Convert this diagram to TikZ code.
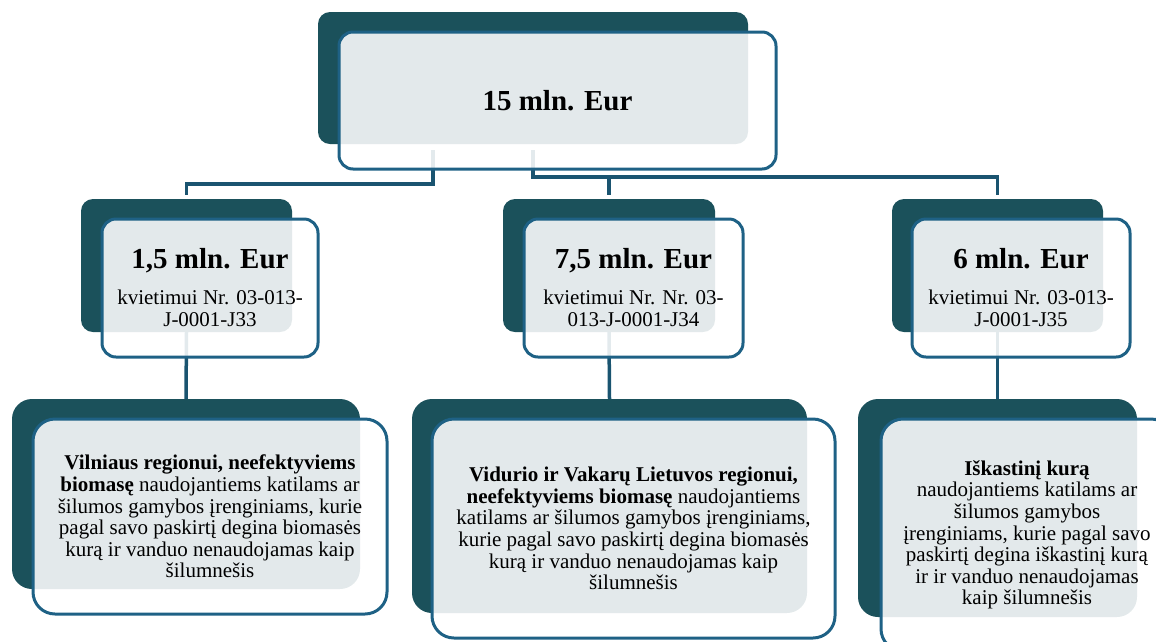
\documentclass[tikz,border=0pt]{standalone}
\usepackage{fontspec}
\setmainfont{Liberation Serif}
\definecolor{darkteal}{HTML}{1B515B}
\definecolor{borderblue}{HTML}{1E6185}
\definecolor{connblue}{HTML}{1A5470}
\tikzset{
  backbox/.style={fill=darkteal, rounded corners=12pt, inner sep=0pt},
  backboxL/.style={fill=darkteal, rounded corners=20pt, inner sep=0pt},
  frontbox/.style={draw=borderblue, line width=3pt, fill=white, fill opacity=0.88,
    text opacity=1, rounded corners=14pt, inner sep=0pt, align=center, text=black,
    font=\fontsize{21}{22.5}\selectfont},
  frontboxL/.style={frontbox, rounded corners=22pt, font=\fontsize{21}{21.6}\selectfont},
  conn/.style={draw=connblue, line width=3.5pt},
  amount/.style={}
}
\newcommand{\amt}[1]{{\fontsize{29}{29}\selectfont\bfseries #1}}
\begin{document}
\begin{tikzpicture}[x=1pt,y=-1pt]
\useasboundingbox (0,0) rectangle (1156,641);
\clip (0,0) rectangle (1156,641);
% back boxes
\node[backbox, minimum width=430pt, minimum height=132pt] (tback) at (533,78) {};
\node[backbox, minimum width=211pt, minimum height=133pt] (m1back) at (186.5,265.5) {};
\node[backbox, minimum width=212pt, minimum height=133pt] (m2back) at (609,265.5) {};
\node[backbox, minimum width=211pt, minimum height=133pt] (m3back) at (997.5,265.5) {};
\node[backboxL, minimum width=348pt, minimum height=190pt] (b1back) at (186,494) {};
\node[backboxL, minimum width=395pt, minimum height=214pt] (b2back) at (609.5,506) {};
\node[backboxL, minimum width=279pt, minimum height=218pt] (b3back) at (997.5,508) {};
% connectors
\draw[conn] ([xshift=-100pt,yshift=-6pt]tback.south) -- ++(0,34) -| ([yshift=4pt]m1back.north);
\draw[conn] ([yshift=-6pt]tback.south) -- ++(0,27) coordinate (hr) -| ([yshift=4pt]m3back.north);
\draw[conn] (m2back.north |- hr) -- ([yshift=4pt]m2back.north);
\draw[conn] (m1back.south) -- (b1back.north);
\draw[conn] (m2back.south) -- (b2back.north);
\draw[conn] (m3back.south) -- (b3back.north);
% front boxes
\node[frontbox, minimum width=437pt, minimum height=137pt] (top) at (557.5,100.5) {\amt{15 mln. Eur}};
\node[frontbox, minimum width=216pt, minimum height=138pt] (m1) at (210,288)
  {\amt{1,5 mln. Eur}\\[13pt] kvietimui Nr. 03-013-\\ J-0001-J33};
\node[frontbox, minimum width=219pt, minimum height=138pt] (m2) at (633.5,288)
  {\amt{7,5 mln. Eur}\\[13pt] kvietimui Nr. Nr. 03-\\ 013-J-0001-J34};
\node[frontbox, minimum width=218pt, minimum height=138pt] (m3) at (1021,288)
  {\amt{6 mln. Eur}\\[13pt] kvietimui Nr. 03-013-\\ J-0001-J35};
\node[frontboxL, minimum width=354pt, minimum height=195pt] (b1) at (210,516.5)
  {\textbf{Vilniaus regionui, neefektyviems}\\
   \textbf{biomasę} naudojantiems katilams ar\\
   šilumos gamybos įrenginiams, kurie\\
   pagal savo paskirtį degina biomasės\\
   kurą ir vanduo nenaudojamas kaip\\
   šilumnešis};
\node[frontboxL, minimum width=403pt, minimum height=219pt] (b2) at (633.5,528.5)
  {\textbf{Vidurio ir Vakarų Lietuvos regionui,}\\
   \textbf{neefektyviems biomasę} naudojantiems\\
   katilams ar šilumos gamybos įrenginiams,\\
   kurie pagal savo paskirtį degina biomasės\\
   kurą ir vanduo nenaudojamas kaip\\
   šilumnešis};
\node[frontboxL, minimum width=292pt, minimum height=232pt] (b3) at (1027,535)
  {\textbf{Iškastinį kurą}\\
   naudojantiems katilams ar\\
   šilumos gamybos\\
   įrenginiams, kurie pagal savo\\
   paskirtį degina iškastinį kurą\\
   ir ir vanduo nenaudojamas\\
   kaip šilumnešis};
\end{tikzpicture}
\end{document}
